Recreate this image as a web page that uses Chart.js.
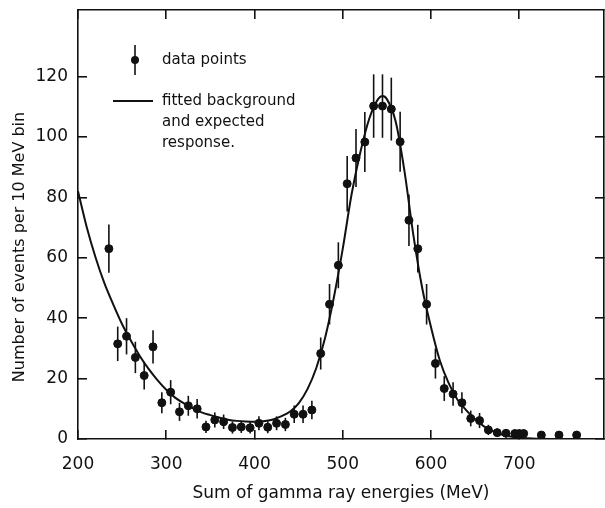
<!DOCTYPE html>
<html>
<head>
<meta charset="utf-8">
<script src="https://cdn.jsdelivr.net/npm/chart.js@4"></script>
<style>
  html, body { margin: 0; padding: 0; background: #fff; overflow: hidden; }
  #wrap { width: 605px; height: 508px; position: relative; }
</style>
</head>
<body>
<div id="wrap"><canvas id="gammaChart"></canvas></div>
<script>
const binCenters = [235, 245, 255, 265, 275, 285, 295, 305, 315, 325, 335, 345, 355, 365, 375, 385, 395,
  405, 415, 425, 435, 445, 455, 465, 475, 485, 495, 505, 515, 525, 535, 545, 555, 565, 575, 585,
  595, 605, 615, 625, 635, 645, 655, 665, 675, 685, 695, 700, 705, 725, 745, 765];
const counts = [63, 31.5, 34, 27, 21, 30.5, 12, 15.5, 9, 11, 10, 4, 6.3, 5.7, 3.8, 4, 3.7,
  5.2, 3.9, 5.2, 4.8, 8.2, 8.2, 9.6, 28.3, 44.6, 57.5, 84.5, 93, 98.3, 110.2, 110.2, 109.2, 98.4, 72.4, 63,
  44.6, 25, 16.7, 14.9, 12, 6.8, 6.1, 3, 2.1, 1.9, 1.8, 1.8, 1.8, 1.3, 1.3, 1.3];
const countErrors = [8, 5.7, 6, 5.2, 4.6, 5.5, 3.5, 4, 3, 3.3, 3.2, 2, 2.5, 2.4, 2, 2, 1.9,
  2.3, 2, 2.3, 2.2, 2.9, 2.9, 3.1, 5.3, 6.7, 7.6, 9.2, 9.6, 9.9, 10.5, 10.5, 10.4, 9.9, 8.5, 7.9,
  6.7, 5, 4.1, 3.9, 3.5, 2.6, 2.5, 1.7, 1.4, 1.4, 1.3, 1.3, 1.3, 1.1, 1.1, 1.1];

// fitted background + expected response curve
const fitX = [200, 210, 220, 230, 240, 250, 260, 270, 280, 290, 300, 310, 320, 330, 340, 350, 360,
  370, 380, 390, 400, 410, 420, 430, 440, 450, 460, 470, 480, 490, 500, 510, 520, 530, 540, 545, 550,
  560, 570, 580, 590, 600, 610, 620, 630, 640, 650, 660, 670, 680, 690, 700, 720, 770];
const fitY = [82, 70, 60, 51.5, 44.5, 38, 32.5, 27.5, 23.2, 19.5, 16.3, 13.7, 11.8, 10.2, 8.8, 7.9, 7.1,
  6.4, 6.0, 5.8, 5.7, 5.9, 6.4, 7.5, 9.0, 11.8, 16.5, 23.5, 33.5, 47, 63, 81, 95, 106, 112.5, 113.5, 112.5,
  105, 88.5, 67.5, 50, 37, 26, 18.5, 13, 9.5, 6.5, 4.2, 2.6, 1.5, 0.8, 0.4, 0.1, 0];

const xTickValues = [200, 300, 400, 500, 600, 700];
const yTickValues = [0, 20, 40, 60, 80, 100, 120];
const xRange = [200, 796];
const yRange = [0, 142];
const legendLines = ['fitted background', 'and expected', 'response.'];
const yTitle = 'Number of events per 10 MeV bin';

const FONT = 'DejaVu Sans';
const INK = '#111';

const errorBars = {
  id: 'errorBars',
  afterDatasetsDraw(chart) {
    const { ctx, scales: { x, y } } = chart;
    ctx.save();
    ctx.strokeStyle = INK;
    ctx.lineWidth = 1.6;
    binCenters.forEach((b, i) => {
      const px = x.getPixelForValue(b);
      ctx.beginPath();
      ctx.moveTo(px, y.getPixelForValue(Math.max(0, counts[i] - countErrors[i])));
      ctx.lineTo(px, y.getPixelForValue(counts[i] + countErrors[i]));
      ctx.stroke();
    });
    ctx.restore();
  }
};

const insetLegend = {
  id: 'insetLegend',
  afterDraw(chart) {
    const { ctx, chartArea: a } = chart;
    ctx.save();
    ctx.fillStyle = INK;
    ctx.strokeStyle = INK;
    ctx.font = `15px "${FONT}"`;
    ctx.textBaseline = 'middle';
    // data points symbol
    const mx = a.left + 57, my = a.top + 50;
    ctx.lineWidth = 1.6;
    ctx.beginPath();
    ctx.moveTo(mx, my - 15);
    ctx.lineTo(mx, my + 15);
    ctx.stroke();
    ctx.beginPath();
    ctx.arc(mx, my, 4, 0, Math.PI * 2);
    ctx.fill();
    ctx.fillText('data points', a.left + 84, my);
    // fitted line symbol
    const ly = a.top + 91;
    ctx.lineWidth = 1.8;
    ctx.beginPath();
    ctx.moveTo(a.left + 35, ly);
    ctx.lineTo(a.left + 75, ly);
    ctx.stroke();
    legendLines.forEach((t, i) => ctx.fillText(t, a.left + 84, ly + i * 21));
    // y axis title, sits a little below the axis centre in the original
    ctx.font = `16px "${FONT}"`;
    ctx.textAlign = 'center';
    ctx.translate(20, 247);
    ctx.rotate(-Math.PI / 2);
    ctx.fillText(yTitle, 0, 0);
    ctx.restore();
  }
};

const axisLine = { color: INK, width: 1.6 };
const innerTicks = { color: INK, lineWidth: 1.6, drawOnChartArea: false, tickLength: -9 };
const fixedTicks = values => s => { s.ticks = values.map(v => ({ value: v })); };
const noPad = size => s => {
  if (s.isHorizontal()) s.height = size; else s.width = size;
  s.paddingTop = s.paddingBottom = s.paddingLeft = s.paddingRight = 0;
};

new Chart(document.getElementById('gammaChart'), {
  data: {
    datasets: [
      {
        type: 'scatter',
        label: 'data points',
        data: binCenters.map((b, i) => ({ x: b, y: counts[i] })),
        backgroundColor: INK,
        borderColor: INK,
        pointRadius: 4,
        pointHoverRadius: 4
      },
      {
        type: 'line',
        label: 'fitted background and expected response.',
        data: fitX.map((v, i) => ({ x: v, y: fitY[i] })),
        borderColor: INK,
        borderWidth: 2,
        pointRadius: 0,
        fill: false,
        cubicInterpolationMode: 'monotone'
      }
    ]
  },
  options: {
    responsive: true,
    maintainAspectRatio: false,
    animation: false,
    layout: { padding: 0, autoPadding: false },
    plugins: { legend: { display: false }, tooltip: { enabled: false } },
    scales: {
      x: {
        type: 'linear', position: 'bottom', min: xRange[0], max: xRange[1],
        border: axisLine, grid: innerTicks,
        afterBuildTicks: fixedTicks(xTickValues),
        afterFit: noPad(69),
        ticks: { autoSkip: false, maxRotation: 0, color: INK, padding: 24,
          font: { family: FONT, size: 17 } },
        title: { display: true, text: 'Sum of gamma ray energies (MeV)', color: INK, padding: { top: 18 },
          font: { family: FONT, size: 17 } }
      },
      xTop: {
        type: 'linear', position: 'top', min: xRange[0], max: xRange[1],
        border: axisLine, grid: innerTicks,
        afterBuildTicks: fixedTicks(xTickValues),
        afterFit: noPad(10),
        ticks: { display: false }
      },
      y: {
        type: 'linear', position: 'left', min: yRange[0], max: yRange[1],
        border: axisLine, grid: innerTicks,
        afterBuildTicks: fixedTicks(yTickValues),
        afterFit: noPad(78),
        ticks: { autoSkip: false, color: INK, padding: 19, font: { family: FONT, size: 17 } }
      },
      yRight: {
        type: 'linear', position: 'right', min: yRange[0], max: yRange[1],
        border: axisLine, grid: innerTicks,
        afterBuildTicks: fixedTicks(yTickValues),
        afterFit: noPad(1),
        ticks: { display: false }
      }
    }
  },
  plugins: [errorBars, insetLegend]
});
</script>
</body>
</html>
